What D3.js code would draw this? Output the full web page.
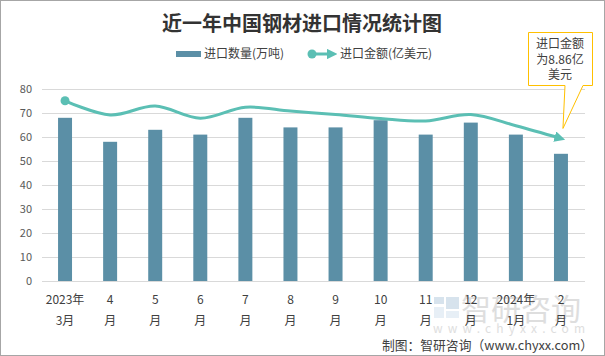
<!DOCTYPE html>
<html><head><meta charset="utf-8">
<script src="https://cdn.jsdelivr.net/npm/d3@7"></script>
<style>
html,body{margin:0;padding:0;background:#fff;}
svg{display:block;font-family:"Noto Sans CJK SC","Noto Sans",sans-serif;}
</style></head>
<body>
<script>
const months = [["2023年","3月"],["4","月"],["5","月"],["6","月"],["7","月"],["8","月"],["9","月"],["10","月"],["11","月"],["12","月"],["2024年","1月"],["2","月"]];
const quantity = [68, 58, 63, 61, 68, 64, 64, 67, 61, 66, 61, 53];
const amount = [75.1, 69.2, 72.9, 67.8, 72.4, 70.8, 69.4, 67.7, 66.7, 69.4, 64.7, 59.4];
const yTicks = [0, 10, 20, 30, 40, 50, 60, 70, 80];
const title = "近一年中国钢材进口情况统计图";
const legendLabels = ["进口数量(万吨)", "进口金额(亿美元)"];
const calloutLines = ["进口金额", "为8.86亿", "美元"];
const sourceText = "制图：智研咨询（www.chyxx.com）";

const W = 605, H = 356;
const barColor = "#5b8fa6", lineColor = "#5bbfb4", textColor = "#404040";
const svg = d3.select("body").append("svg").attr("width", W).attr("height", H);

svg.append("rect").attr("x",0.5).attr("y",0.5).attr("width",W-1).attr("height",H-1)
  .attr("fill","#fff").attr("stroke","#a6a6a6");

const x = d3.scaleBand().domain(d3.range(months.length)).range([42.5, 583.5]).paddingInner(0.69).paddingOuter(0.345);
const y = d3.scaleLinear().domain([0, 80]).range([281, 89]);

// grid
svg.append("g").selectAll("line").data(yTicks).join("line")
  .attr("x1", 42).attr("x2", 585)
  .attr("y1", d => y(d) + 0.5).attr("y2", d => y(d) + 0.5)
  .attr("stroke", "#d9d9d9").attr("stroke-width", 1);

// y labels
svg.append("g").selectAll("text").data(yTicks).join("text")
  .attr("x", 32).attr("y", d => y(d)).attr("dy", "0.35em")
  .attr("text-anchor", "end").attr("font-size", 11).attr("fill", "#595959")
  .text(d => d);

// watermark
const wm = svg.append("g").attr("opacity", 0.55);
wm.append("rect").attr("x",434).attr("y",297).attr("width",10).attr("height",7).attr("fill","#b7cde0");
wm.append("rect").attr("x",446).attr("y",297).attr("width",13).attr("height",12).attr("fill","#b7cde0");
wm.append("rect").attr("x",434).attr("y",307).attr("width",10).attr("height",11).attr("fill","#d5e3ef");
wm.append("rect").attr("x",446).attr("y",311).attr("width",13).attr("height",7).attr("fill","#d5e3ef");
wm.append("text").attr("x", 461).attr("y", 320).attr("font-size", 30).attr("fill", "#c4c4c4").text("智研咨询");
wm.append("text").attr("x", 433).attr("y", 333).attr("font-size", 12).attr("fill", "#c4c4c4")
  .attr("textLength", 152).attr("lengthAdjust", "spacing").text("www.chyxx.com");

// bars
svg.append("g").selectAll("rect").data(quantity).join("rect")
  .attr("x", (d, i) => x(i)).attr("width", x.bandwidth())
  .attr("y", d => y(d)).attr("height", d => y(0) - y(d))
  .attr("fill", barColor);

// line
const defs = svg.append("defs");
defs.append("marker").attr("id","arrow").attr("viewBox","0 0 10 10").attr("refX",6).attr("refY",5)
  .attr("markerWidth",3.6).attr("markerHeight",3.6).attr("orient","auto").attr("markerUnits","strokeWidth")
  .append("path").attr("d","M0,0 L10,5 L0,10 Z").attr("fill", lineColor);

const cx = i => x(i) + x.bandwidth() / 2;
const line = d3.line().x((d, i) => cx(i)).y(d => y(d)).curve(d3.curveCatmullRom.alpha(0));
svg.append("path").datum(amount).attr("d", line).attr("fill", "none")
  .attr("stroke", lineColor).attr("stroke-width", 3).attr("marker-end", "url(#arrow)");
svg.append("circle").attr("cx", cx(0)).attr("cy", y(amount[0])).attr("r", 4.5).attr("fill", lineColor);

// x labels
const xl = svg.append("g").selectAll("g").data(months).join("g")
  .attr("transform", (d, i) => `translate(${cx(i)},0)`);
xl.append("text").attr("y", 300).attr("dy","0.35em").attr("text-anchor","middle").attr("font-size",12).attr("fill",textColor).text(d => d[0]);
xl.append("text").attr("y", 321).attr("dy","0.35em").attr("text-anchor","middle").attr("font-size",12).attr("fill",textColor).text(d => d[1]);

// title
svg.append("text").attr("x", 302).attr("y", 31).attr("text-anchor","middle")
  .attr("font-size", 20).attr("font-weight", "bold").attr("fill", "#333").text(title);

// legend
svg.append("rect").attr("x",176).attr("y",51).attr("width",25).attr("height",6).attr("fill",barColor);
svg.append("text").attr("x",204).attr("y",54).attr("dy","0.35em").attr("font-size",12).attr("fill",textColor).text(legendLabels[0]);
svg.append("line").attr("x1",312).attr("x2",333).attr("y1",54).attr("y2",54)
  .attr("stroke",lineColor).attr("stroke-width",3).attr("marker-end","url(#arrow)");
svg.append("circle").attr("cx",312).attr("cy",54).attr("r",4.5).attr("fill",lineColor);
svg.append("text").attr("x",340).attr("y",54).attr("dy","0.35em").attr("font-size",12).attr("fill",textColor).text(legendLabels[1]);

// callout
const tip = [cx(11) + 2, y(amount[11]) - 10];
svg.append("path")
  .attr("d", `M528.5,32.5 H592.5 V85.5 H583 L${tip[0]},${tip[1]} L565,85.5 H528.5 Z`)
  .attr("fill","#fff").attr("stroke","#ffc000").attr("stroke-width",1);
svg.append("g").selectAll("text").data(calloutLines).join("text")
  .attr("x", 560).attr("y", (d, i) => 44 + i * 15.5).attr("dy","0.35em")
  .attr("text-anchor","middle").attr("font-size",12).attr("fill",textColor).text(d => d);

// source
svg.append("text").attr("x", 593).attr("y", 345).attr("dy","0.35em").attr("text-anchor","end")
  .attr("font-size", 13).attr("fill", "#404040").attr("font-family","'Noto Sans CJK SC','DejaVu Sans Mono',monospace")
  .attr("textLength", 211).attr("lengthAdjust","spacingAndGlyphs").text(sourceText);
</script>
</body></html>
